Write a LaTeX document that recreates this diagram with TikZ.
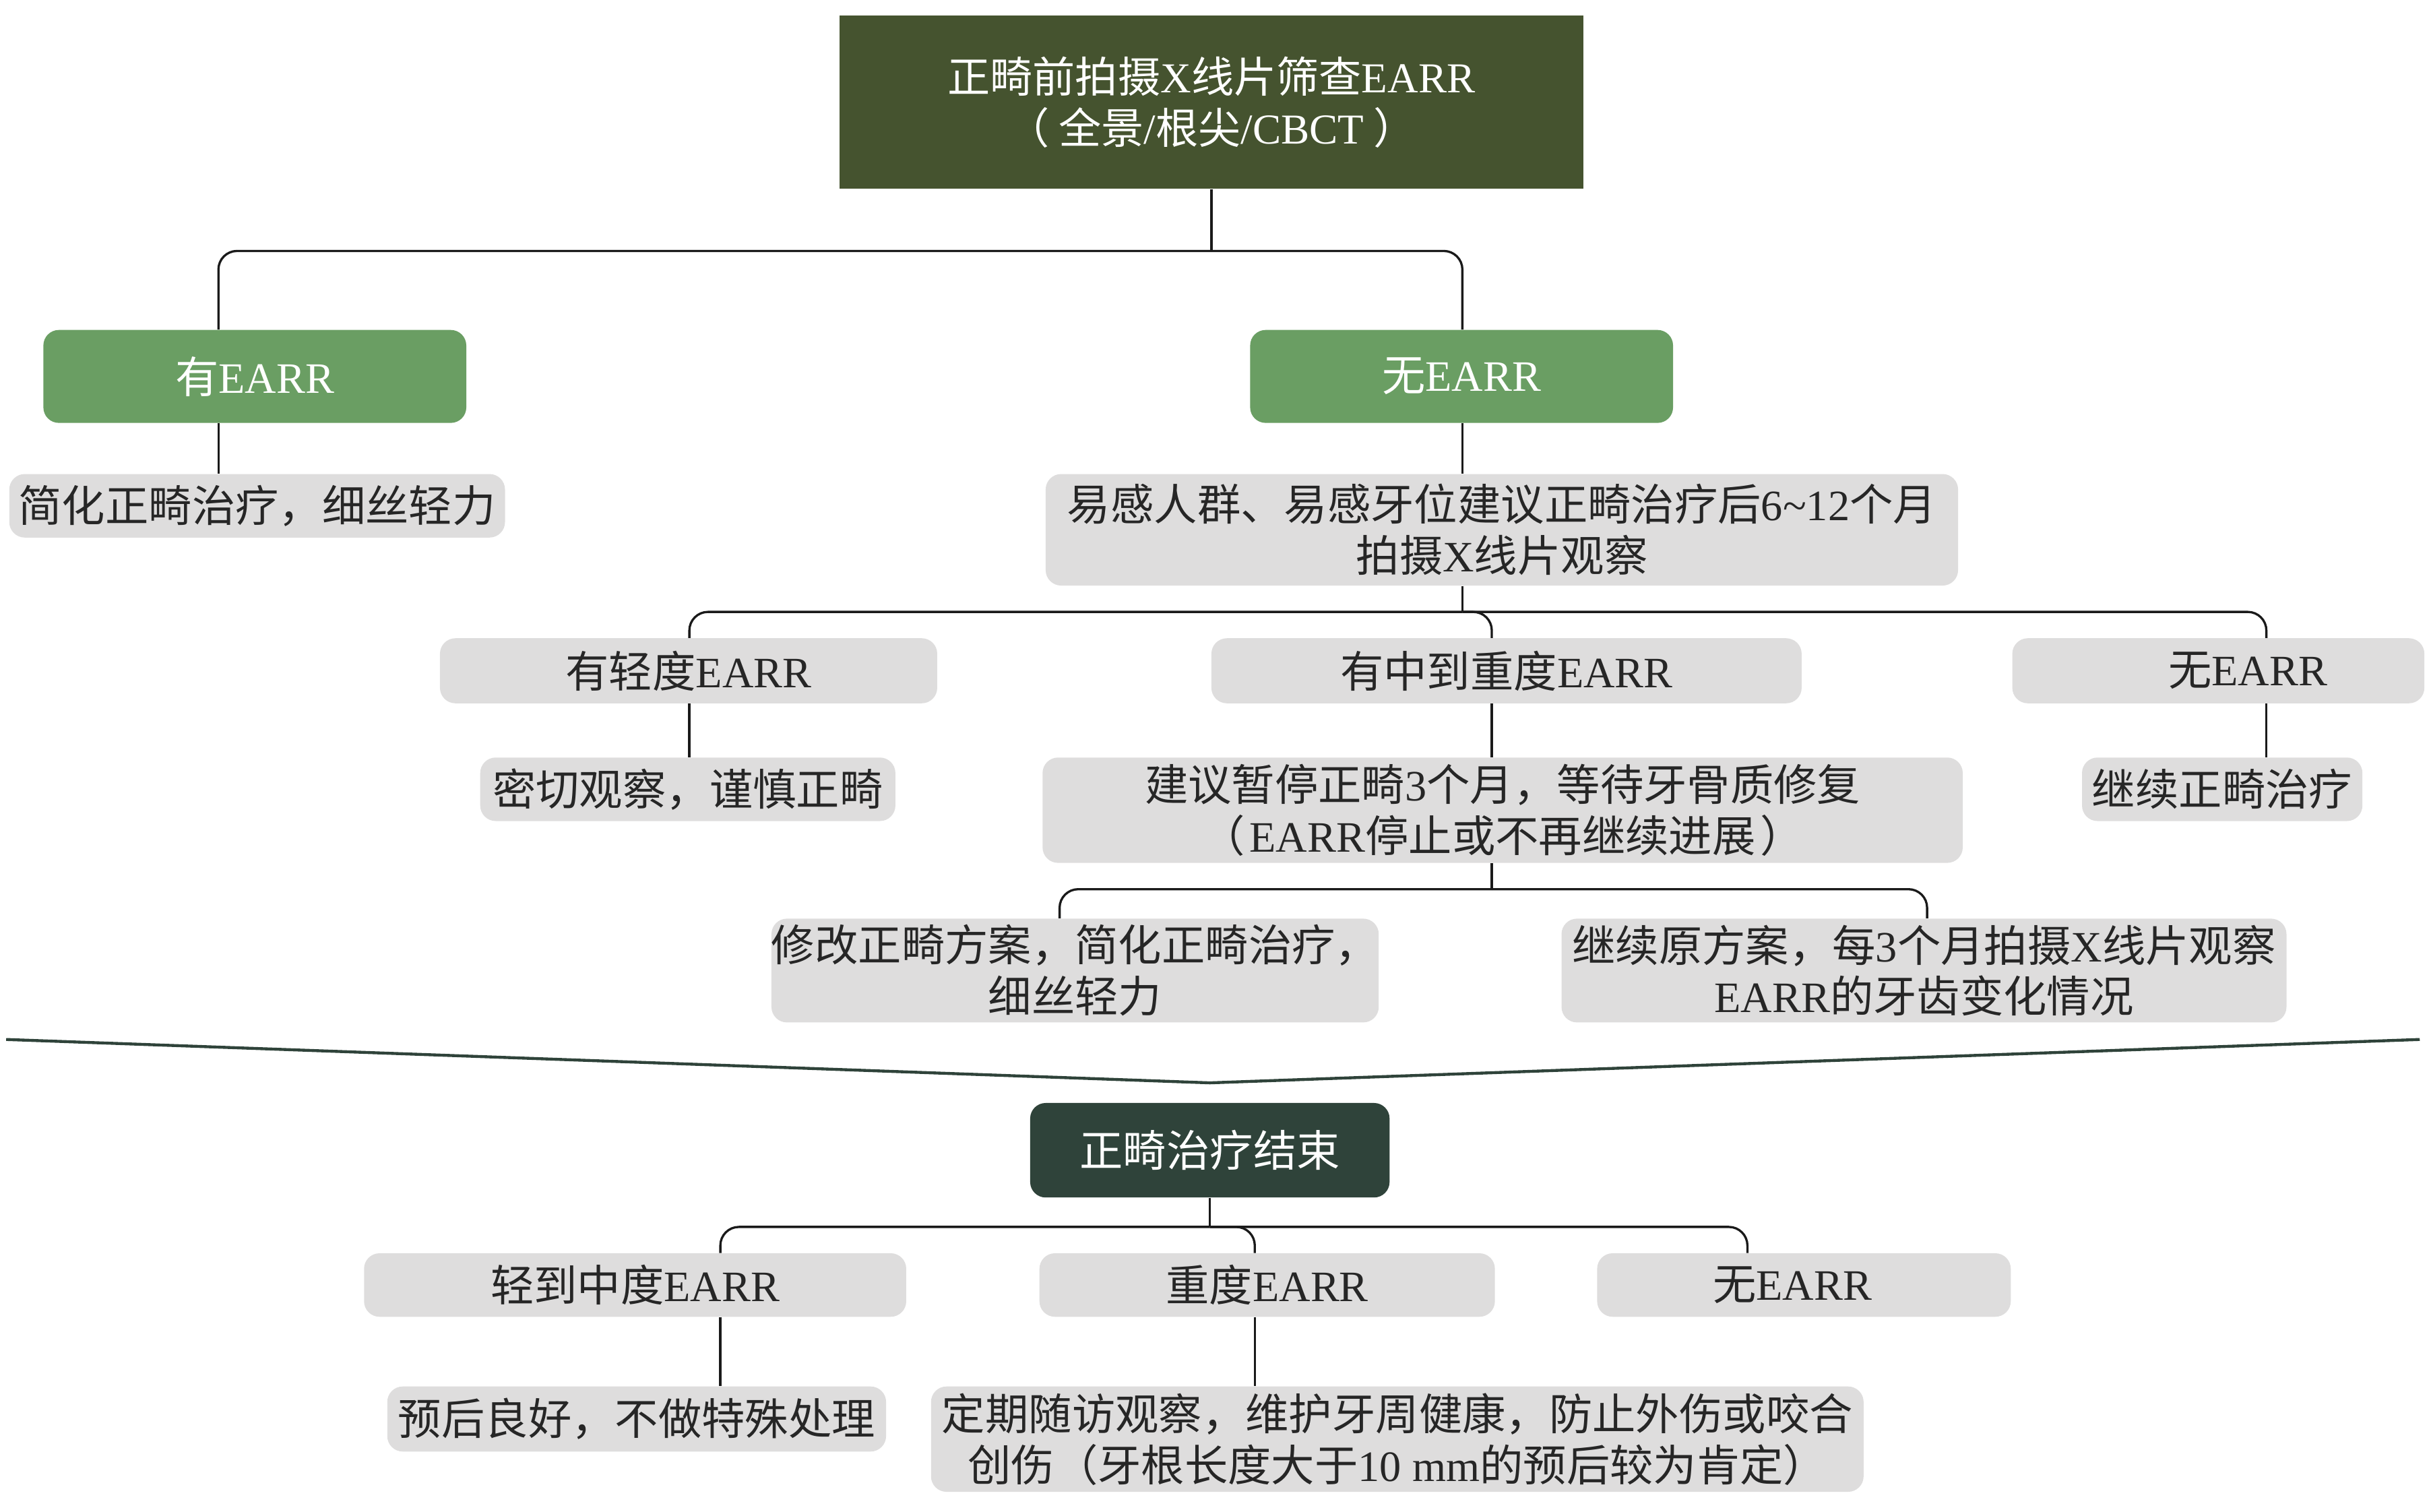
\documentclass[tikz,border=0pt]{standalone}
\usepackage{fontspec}
\setmainfont{Noto Sans CJK SC}
\newfontfamily\lat{Liberation Serif}
\newcommand\earr{{\lat EARR}}
\definecolor{olivebox}{HTML}{45532F}
\definecolor{leaf}{HTML}{6A9E63}
\definecolor{boxgray}{HTML}{DEDDDD}
\definecolor{endbox}{HTML}{2F433A}
\definecolor{txt}{HTML}{262626}
\definecolor{linec}{HTML}{1A1A1A}
\begin{document}
\begin{tikzpicture}[x=1pt,y=-1pt,
  basebox/.style={inner sep=0pt, align=center, font=\fontsize{28}{33}\selectfont},
  graybox/.style={basebox, fill=boxgray, rounded corners=10pt, text=txt},
  greenbox/.style={basebox, fill=leaf, rounded corners=10pt, text=white},
  darkbox/.style={basebox, fill=endbox, rounded corners=10pt, text=white},
  conn/.style={draw=linec, line width=1.45pt, rounded corners=12pt},
  chev/.style={draw=endbox, line width=1.9pt}]
\useasboundingbox (0,0) rectangle (1568,976);

% ---- nodes ----
\node[basebox, fill=olivebox, text=white, minimum width=480pt, minimum height=112pt, font=\fontsize{27.5}{33}\selectfont] (top) at (782,66) {正畸前拍摄{\lat X}线片筛查\earr\\（\hspace{6pt}全景{\lat /}根尖{\lat /CBCT}\hspace{6pt}）};
\node[greenbox, minimum width=273pt, minimum height=60pt] (hasE) at (164.5,243) {有\earr};
\node[greenbox, minimum width=273pt, minimum height=60pt] (noE) at (943.5,243) {无\earr};
\node[graybox, minimum width=320pt, minimum height=41pt] (g1) at (166,326.5) {简化正畸治疗，细丝轻力};
\node[graybox, minimum width=589pt, minimum height=72pt] (g2) at (969.5,342) {易感人群、易感牙位建议正畸治疗后{\lat 6\textasciitilde 12}个月\\拍摄{\lat X}线片观察};
\node[graybox, minimum width=321pt, minimum height=42pt] (r1) at (444.5,433) {有轻度\earr};
\node[graybox, minimum width=381pt, minimum height=42pt] (r2) at (972.5,433) {有中到重度\earr};
\node[graybox, minimum width=266pt, minimum height=42pt] (r3) at (1432,433) {\hspace*{38pt}无\earr};
\node[graybox, minimum width=268pt, minimum height=41pt] (s1) at (444,509.5) {密切观察，谨慎正畸};
\node[graybox, minimum width=594pt, minimum height=68pt] (s2) at (970,523) {建议暂停正畸{\lat 3}个月，等待牙骨质修复\\（\hspace{3pt}\earr 停止或不再继续进展\hspace{3pt}）};
\node[graybox, minimum width=181pt, minimum height=41pt] (s3) at (1434.5,509.5) {继续正畸治疗};
\node[graybox, minimum width=388pt, minimum height=67pt] (t1) at (694,626.5) {修改正畸方案，简化正畸治疗，\\细丝轻力};
\node[graybox, minimum width=468pt, minimum height=67pt] (t2) at (1242,626.5) {继续原方案，每{\lat 3}个月拍摄{\lat X}线片观察\\\earr 的牙齿变化情况};
\node[darkbox, minimum width=232pt, minimum height=61pt] (fin) at (781,742.5) {正畸治疗结束};
\node[graybox, minimum width=350pt, minimum height=41pt] (u1) at (410,829.5) {轻到中度\earr};
\node[graybox, minimum width=294pt, minimum height=41pt] (u2) at (818,829.5) {重度\earr};
\node[graybox, minimum width=267pt, minimum height=41pt] (u3) at (1164.5,829.5) {无\earr\hspace*{15pt}};
\node[graybox, minimum width=322pt, minimum height=42pt] (v1) at (411,916) {预后良好，不做特殊处理};
\node[graybox, minimum width=602pt, minimum height=68pt] (v2) at (902,929) {定期随访观察，维护牙周健康，防止外伤或咬合\\创伤（牙根长度大于{\lat 10 mm}的预后较为肯定）};

% ---- junction coordinates ----
\coordinate (j1) at (782,162);
\coordinate (j1L) at (141,162);
\coordinate (j1R) at (944,162);
\coordinate (j2) at (944,395);
\coordinate (j2L) at (445,395);
\coordinate (j2M) at (963,395);
\coordinate (j2R) at (1463,395);
\coordinate (j3) at (963,574);
\coordinate (j3L) at (684,574);
\coordinate (j3R) at (1244,574);
\coordinate (j4) at (781,792);
\coordinate (j4L) at (465,792);
\coordinate (j4M) at (810,792);
\coordinate (j4R) at (1128,792);

% ---- level 1 ----
\draw[conn] (top.south) -- (j1);
\draw[conn] (hasE.north -| j1L) |- (j1);
\draw[conn] (noE.north -| j1R) |- (j1);
\draw[conn] (hasE.south -| j1L) -- (g1.north -| j1L);
\draw[conn] (noE.south -| j1R) -- (g2.north -| j1R);

% ---- level 2 ----
\draw[conn] (g2.south -| j2) -- (j2);
\draw[conn] (r1.north -| j2L) |- (j2);
\draw[conn] (r2.north -| j2M) |- (j2);
\draw[conn] (r3.north -| j2R) |- (j2);
\draw[conn] (r1.south -| j2L) -- (s1.north -| j2L);
\draw[conn] (r2.south -| j2M) -- (s2.north -| j2M);
\draw[conn] (r3.south -| j2R) -- (s3.north -| j2R);

% ---- level 3 ----
\draw[conn] (s2.south -| j3) -- (j3);
\draw[conn] (t1.north -| j3L) |- (j3);
\draw[conn] (t2.north -| j3R) |- (j3);

% ---- chevron ----
\coordinate (cl) at (4,671);
\coordinate (ca) at (781,699);
\coordinate (cr) at (1562,671);
\draw[chev] (cl) -- (ca) -- (cr);

% ---- level 4 ----
\draw[conn] (fin.south) -- (j4);
\draw[conn] (u1.north -| j4L) |- (j4);
\draw[conn] (u2.north -| j4M) |- (j4);
\draw[conn] (u3.north -| j4R) |- (j4);
\draw[conn] (u1.south -| j4L) -- (v1.north -| j4L);
\draw[conn] (u2.south -| j4M) -- (v2.north -| j4M);
\end{tikzpicture}
\end{document}
